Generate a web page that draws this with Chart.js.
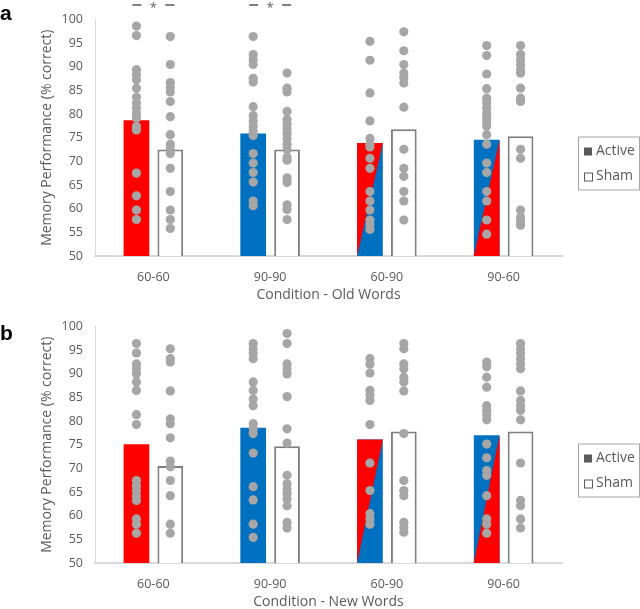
<!DOCTYPE html>
<html lang="en">
<head>
<meta charset="UTF-8">
<title>Memory Performance - Old and New Words</title>
<script src="https://cdn.jsdelivr.net/npm/chart.js"></script>
<style>
  body { margin: 0; background: #fff; overflow: hidden; }
  canvas { position: absolute; left: 0; }
  .top { top: 0; }
  .bottom { top: 307px; }
</style>
</head>
<body>
<canvas id="bars-old" class="top" width="640" height="305"></canvas>
<canvas id="pts-old" class="top" width="640" height="305"></canvas>
<canvas id="bars-new" class="bottom" width="640" height="305"></canvas>
<canvas id="pts-new" class="bottom" width="640" height="305"></canvas>

<script>
// categories and bar means
const categories = ["60-60", "90-90", "60-90", "90-60"];
const seriesNames = ["Active", "Sham"];

const oldActive = [78.7, 75.9, 73.9, 74.6];
const oldSham = [72.5, 72.5, 76.8, 75.3];
const newActive = [75.1, 78.6, 76.1, 77.0];
const newSham = [70.5, 74.7, 77.8, 77.8];

// individual subjects (one list per condition)
const oldActivePts = [
  [98.5, 96.5, 89.3, 88.2, 87.2, 85.4, 83.5, 82.3, 81.2, 80.1, 79.1, 77.3, 76.6, 67.5, 62.7, 59.7, 57.7],
  [96.3, 92.5, 91.4, 90.4, 87.5, 86.7, 81.5, 79.6, 78.5, 77.4, 76.4, 75.4, 71.6, 69.6, 67.6, 65.6, 61.6, 60.6],
  [95.3, 91.3, 84.4, 78.5, 74.8, 73.6, 73.0, 70.6, 68.5, 63.6, 61.6, 59.7, 57.6, 56.6, 55.6],
  [94.4, 92.3, 88.4, 85.3, 83.3, 82.3, 81.2, 80.1, 79.2, 78.3, 77.4, 75.6, 73.6, 69.6, 67.6, 63.6, 61.6, 57.6, 54.6]
];
const oldShamPts = [
  [96.3, 90.4, 86.6, 85.6, 84.6, 82.6, 79.4, 75.6, 73.6, 72.6, 71.6, 68.5, 63.6, 59.7, 57.7, 55.8],
  [88.6, 85.4, 84.6, 80.5, 78.8, 77.8, 76.8, 75.8, 74.8, 73.5, 72.4, 70.8, 70.2, 66.5, 65.5, 60.8, 59.8, 57.7],
  [97.3, 93.3, 90.4, 88.6, 87.6, 86.5, 81.4, 72.5, 68.5, 66.8, 63.6, 61.6, 57.6],
  [94.4, 92.5, 91.4, 90.4, 89.3, 88.6, 85.4, 83.3, 82.6, 72.5, 70.6, 59.7, 58.2, 57.2, 56.5]
];
const newActivePts = [
  [96.3, 94.3, 92.0, 91.0, 89.9, 88.2, 86.4, 81.3, 79.2, 67.4, 66.3, 65.3, 64.2, 63.2, 59.3, 58.2, 56.3],
  [96.3, 95.2, 94.2, 93.1, 88.2, 86.4, 84.6, 83.2, 79.4, 78.3, 77.3, 73.2, 66.1, 63.3, 58.2, 55.4],
  [93.1, 92.0, 90.1, 86.4, 85.4, 84.3, 79.2, 71.1, 65.3, 60.4, 59.3, 58.2],
  [92.4, 91.4, 89.2, 87.1, 83.2, 82.2, 81.3, 80.2, 75.1, 72.2, 69.5, 68.5, 64.2, 59.3, 58.2, 56.3]
];
const newShamPts = [
  [95.2, 93.1, 92.4, 86.3, 80.4, 79.4, 76.4, 71.5, 70.3, 67.4, 64.2, 58.2, 56.3],
  [98.4, 96.3, 92.0, 91.0, 89.9, 85.1, 78.3, 75.3, 68.5, 66.7, 65.6, 64.6, 63.5, 62.1, 58.6, 57.4],
  [96.3, 95.2, 92.0, 91.0, 89.2, 88.2, 86.3, 77.3, 67.4, 65.3, 64.2, 58.6, 57.5, 56.5],
  [96.3, 95.2, 94.2, 93.1, 92.0, 91.0, 86.3, 84.3, 83.2, 82.2, 80.2, 71.1, 63.2, 62.1, 59.3, 57.4]
];

const yMin = 50, yMax = 100, yStep = 5;
const starCategories = [0, 1]; // significant pairs in panel a

const RED = "#FF0000", BLUE = "#0070C0", GREY = "#595959", DOT = "#A6A6A6";
const activeColors = [RED, BLUE, BLUE, BLUE];
const activeSplit = [null, null, "upper", "lower"]; // red triangle on mixed bars
const catPct = 0.58, barPct = 0.76;
const FONT = "'Open Sans', 'DejaVu Sans', sans-serif";
// same plot box for the bar chart and the dot overlay
const PAD = { top: 19, right: 78, left: 95, bottom: 49 };

// red triangle over the blue bars of the mixed conditions
const splitBars = {
  id: "splitBars",
  afterDatasetDraw(chart, args) {
    if (args.index !== 0) return;
    const ctx = chart.ctx;
    const area = chart.chartArea;
    ctx.save();
    ctx.fillStyle = RED;
    activeSplit.forEach((side, i) => {
      if (!side) return;
      const bar = args.meta.data[i];
      const l = bar.x - bar.width / 2, r = bar.x + bar.width / 2;
      const base = Math.min(bar.base, area.bottom);
      ctx.beginPath();
      if (side === "upper") {
        ctx.moveTo(l, base); ctx.lineTo(l, bar.y); ctx.lineTo(r, bar.y);
      } else {
        ctx.moveTo(l, base); ctx.lineTo(r, base); ctx.lineTo(r, bar.y);
      }
      ctx.closePath();
      ctx.fill();
    });
    ctx.restore();
  }
};

// panel letter, significance marks and boxed legend
const panelExtras = {
  id: "panelExtras",
  afterDraw(chart, args, opts) {
    const ctx = chart.ctx;
    const area = chart.chartArea;
    ctx.save();

    ctx.fillStyle = "#000";
    ctx.font = "bold 21px 'Liberation Sans', Arial, sans-serif";
    ctx.textBaseline = "alphabetic";
    ctx.textAlign = "left";
    ctx.fillText(opts.letter, 0, opts.letterY);

    (opts.stars || []).forEach(i => {
      const cx = chart.scales.x.getPixelForValue(i);
      ctx.strokeStyle = "#7F7F7F";
      ctx.lineWidth = 2;
      ctx.beginPath();
      ctx.moveTo(cx - 21, 5); ctx.lineTo(cx - 12, 5);
      ctx.moveTo(cx + 12, 5); ctx.lineTo(cx + 21, 5);
      ctx.stroke();
      ctx.fillStyle = "#595959";
      ctx.font = "13px " + FONT;
      ctx.textAlign = "center";
      ctx.textBaseline = "middle";
      ctx.fillText("*", cx, 8);
    });

    // legend
    const lx = area.right + 16, ly = area.top + 117;
    ctx.strokeStyle = "#A6A6A6";
    ctx.lineWidth = 1;
    ctx.strokeRect(lx + 0.5, ly + 0.5, 61, 53);
    ctx.font = "14px " + FONT;
    ctx.textAlign = "left";
    ctx.textBaseline = "middle";
    seriesNames.forEach((name, k) => {
      const y = ly + 15 + k * 25;
      if (k === 0) {
        ctx.fillStyle = GREY;
        ctx.fillRect(lx + 6, y - 4, 8, 8);
      } else {
        ctx.fillStyle = "#fff";
        ctx.fillRect(lx + 6, y - 4, 8, 8);
        ctx.strokeStyle = GREY;
        ctx.strokeRect(lx + 6.5, y - 3.5, 8, 8);
      }
      ctx.fillStyle = GREY;
      ctx.fillText(name, lx + 18, y);
    });
    ctx.restore();
  }
};

function makeBars(id, active, sham, xTitle, letter, letterY, stars) {
  return new Chart(document.getElementById(id), {
    type: "bar",
    data: {
      labels: categories,
      datasets: [
        {
          label: seriesNames[0], data: active,
          backgroundColor: activeColors, borderWidth: 0,
          categoryPercentage: catPct, barPercentage: barPct
        },
        {
          label: seriesNames[1], data: sham,
          backgroundColor: "#fff", borderColor: "#7F7F7F", borderWidth: 2,
          categoryPercentage: catPct, barPercentage: barPct
        }
      ]
    },
    options: {
      responsive: false,
      devicePixelRatio: 1,
      animation: false,
      layout: { padding: { top: PAD.top, right: PAD.right, left: 0, bottom: 0 } },
      plugins: {
        legend: { display: false },
        tooltip: { enabled: false },
        panelExtras: { letter: letter, letterY: letterY, stars: stars }
      },
      scales: {
        x: {
          grid: { display: false, drawTicks: false },
          border: { display: true, color: "#D9D9D9", width: 2 },
          ticks: { color: GREY, font: { family: FONT, size: 12.5 }, padding: 14 },
          title: { display: true, text: xTitle, color: GREY, font: { family: FONT, size: 14 }, padding: { top: 0, bottom: 2 } },
          afterFit: s => { s.height = PAD.bottom; }
        },
        y: {
          min: yMin, max: yMax,
          grid: { display: false, drawTicks: false },
          border: { display: true, color: "#D9D9D9", width: 1 },
          ticks: { stepSize: yStep, color: GREY, font: { family: FONT, size: 12.5 }, padding: 12 },
          title: { display: true, text: "Memory Performance (% correct)", color: GREY, font: { family: FONT, size: 14 }, padding: { top: 39, bottom: 0 } },
          afterFit: s => { s.width = PAD.left; }
        }
      }
    },
    plugins: [splitBars, panelExtras]
  });
}

function pointsFor(lists, shift) {
  const out = [];
  lists.forEach((vals, i) => vals.forEach(v => out.push({ x: i + shift, y: v })));
  return out;
}

// subject dots, drawn on a transparent chart with the same plot box
function makeDots(id, activePts, shamPts) {
  const off = catPct / 4; // centre of each bar inside its category
  return new Chart(document.getElementById(id), {
    type: "scatter",
    data: {
      datasets: [
        { label: "Active subjects", data: pointsFor(activePts, -off), pointRadius: 4.6, borderWidth: 0, backgroundColor: DOT },
        { label: "Sham subjects", data: pointsFor(shamPts, off), pointRadius: 4.6, borderWidth: 0, backgroundColor: DOT }
      ]
    },
    options: {
      responsive: false,
      devicePixelRatio: 1,
      animation: false,
      layout: { padding: PAD },
      plugins: { legend: { display: false }, tooltip: { enabled: false } },
      scales: {
        x: { type: "linear", min: -0.5, max: categories.length - 0.5, offset: false, display: false },
        y: { min: yMin, max: yMax, display: false }
      }
    }
  });
}

makeBars("bars-old", oldActive, oldSham, "Condition - Old Words", "a", 20, starCategories);
makeDots("pts-old", oldActivePts, oldShamPts);
makeBars("bars-new", newActive, newSham, "Condition - New Words", "b", 33, []);
makeDots("pts-new", newActivePts, newShamPts);
</script>
</body>
</html>
